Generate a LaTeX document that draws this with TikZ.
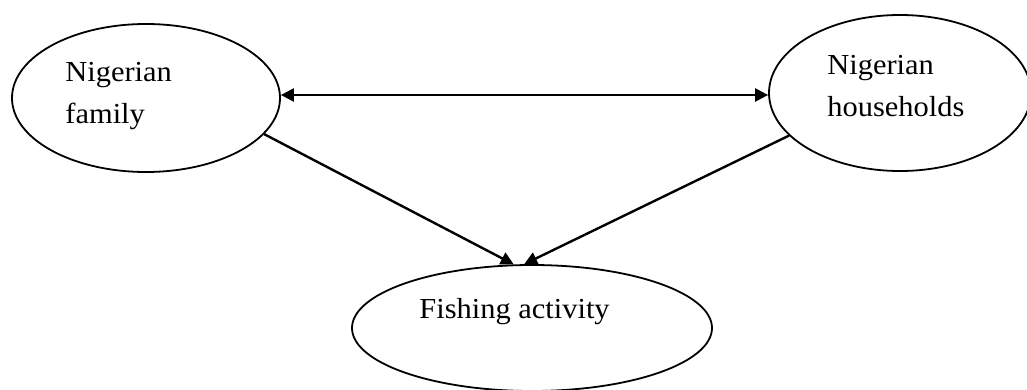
\documentclass[tikz,border=0pt]{standalone}
\usepackage{fontspec}
\setmainfont{Liberation Serif}[FakeStretch=1.05]
\usetikzlibrary{shapes.geometric,arrows.meta}

\tikzset{
  bubble/.style={shape=ellipse,draw=black,line width=0.9pt,inner sep=0pt},
  caption/.style={align=left,inner sep=0pt,anchor=base west,font=\fontsize{14.5}{21}\selectfont},
  link/.style={line width=1.2pt,-{Triangle[length=6.5pt,width=6.5pt]}},
  twolink/.style={line width=1.2pt,{Triangle[length=6.5pt,width=6.5pt]}-{Triangle[length=6.5pt,width=6.5pt]}},
}

\begin{document}
\begin{tikzpicture}[x=0.5pt,y=-0.5pt]
        \useasboundingbox (0,0) rectangle (1027,390);

        \node[bubble,minimum width=134pt,minimum height=74pt] (famly) at (146,98) {};
        \node[bubble,minimum width=131pt,minimum height=78pt] (house) at (900,93) {};
        \node[bubble,minimum width=180pt,minimum height=63pt] (fish)  at (532,328) {};

        % base anchor sits on the last line
        \node[caption] (famlytxt) at (65,124)  {Nigerian\\family};
        \node[caption] (housetxt) at (827,117) {Nigerian\\households};
        \node[caption] (fishtxt)  at (419,318) {Fishing activity};

        \path [twolink]([yshift=1.5pt]famly.east) edge ([yshift=-1pt]house.west);
        \path [link](famly.-17) edge (fish.106);
        \path [link](house.201) edge (fish.97);
    \end{tikzpicture}
\end{document}
